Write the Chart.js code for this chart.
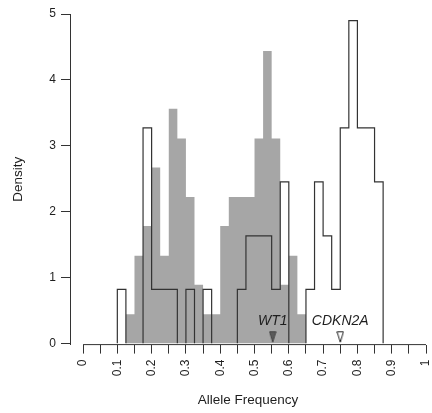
<!DOCTYPE html>
<html>
<head>
<meta charset="utf-8">
<script src="https://cdn.jsdelivr.net/npm/chart.js@4.4.1/dist/chart.umd.min.js"></script>
<style>
html,body{margin:0;padding:0;background:#fff;}
#wrap{width:432px;height:413px;}
</style>
</head>
<body>
<div id="wrap"><canvas id="c" width="432" height="413"></canvas></div>
<script>
// ---- data ----
const binLeft = [0.100,0.125,0.150,0.175,0.200,0.225,0.250,0.275,0.300,0.325,0.350,0.375,0.400,0.425,0.450,0.475,0.500,0.525,0.550,0.575,0.600,0.625,0.650,0.675,0.700,0.725,0.750,0.775,0.800,0.825,0.850];
const binWidth = 0.025;
const grayDensity = [0,0.44,1.33,1.78,2.67,1.33,3.56,3.11,2.22,0.89,0.44,0.44,1.78,2.22,2.22,2.22,3.11,4.44,3.11,0.89,1.33,0.44,0,0,0,0,0,0,0,0,0];
const outlineDensity = [0.82,0,0,3.27,0.82,0.82,0.82,0,0.82,0,0.82,0,0,0,0.82,1.63,1.63,1.63,0.82,2.45,0,0,0.82,2.45,1.63,0.82,3.27,4.90,3.27,3.27,2.45];
const markerNames = ['WT1','CDKN2A'];
const markerX = [0.553,0.75];
const xTickValues = [0,0.05,0.1,0.15,0.2,0.25,0.3,0.35,0.4,0.45,0.5,0.55,0.6,0.65,0.7,0.75,0.8,0.85,0.9,0.95,1];
const xTickLabels = ['0','','0.1','','0.2','','0.3','','0.4','','0.5','','0.6','','0.7','','0.8','','0.9','','1'];
const yTickValues = [0,1,2,3,4,5];
const yTickLabels = ['0','1','2','3','4','5'];

// ---- layout constants ----
const X_MIN = -0.038, X_MAX = 1.0, Y_MIN = -0.02, Y_MAX = 5;
const MARKER_Y = 0.096, LABEL_Y = 0.33;
const FONT = '"Liberation Sans", Arial, Helvetica, sans-serif';
const INK = '#1e1e1e', LINE = '#333333', GRAY = '#a6a6a6';

function triangle(fill, stroke) {
  const c = document.createElement('canvas');
  c.width = 8; c.height = 12;
  const g = c.getContext('2d');
  g.beginPath();
  g.moveTo(0.8, 0.8); g.lineTo(7.2, 0.8); g.lineTo(4, 11.2); g.closePath();
  g.fillStyle = fill; g.fill();
  g.lineWidth = 1; g.strokeStyle = stroke; g.stroke();
  return c;
}
const markerStyles = [triangle('#5a5a5a', '#444'), triangle('#ffffff', '#222')];

// gray filled histogram as a stepped area
const grayPoints = binLeft.map((e, i) => ({x: e, y: grayDensity[i]}));
grayPoints.push({x: binLeft[binLeft.length - 1] + binWidth, y: 0});

// open histogram outline: stepped path per run of non-empty bins
const outlinePoints = [];
let inRun = false;
binLeft.forEach((e, i) => {
  const h = outlineDensity[i];
  if (h > 0) {
    if (!inRun) { outlinePoints.push({x: e, y: 0}); inRun = true; }
    outlinePoints.push({x: e, y: h});
  } else if (inRun) {
    outlinePoints.push({x: e, y: 0});
    outlinePoints.push({x: e, y: null});
    inRun = false;
  }
});
if (inRun) {
  const end = binLeft[binLeft.length - 1] + binWidth;
  outlinePoints.push({x: end, y: 0});
}

const labelPlugin = {
  id: 'geneLabels',
  afterDatasetsDraw(chart) {
    const {ctx, scales: {x, y}} = chart;
    ctx.save();
    ctx.font = 'italic 14px ' + FONT;
    ctx.fillStyle = INK;
    ctx.textAlign = 'center';
    ctx.textBaseline = 'middle';
    markerNames.forEach((t, i) => ctx.fillText(t, x.getPixelForValue(markerX[i]), y.getPixelForValue(LABEL_Y)));
    ctx.restore();
  }
};

Chart.defaults.font.family = FONT;
Chart.defaults.color = INK;

new Chart(document.getElementById('c'), {
  type: 'line',
  data: {
    datasets: [
      {
        label: 'gray', data: grayPoints, stepped: 'before',
        fill: 'origin', backgroundColor: GRAY, borderWidth: 0, borderColor: GRAY,
        pointRadius: 0, order: 3
      },
      {
        label: 'outline', data: outlinePoints, stepped: 'before', spanGaps: false,
        fill: false, borderColor: LINE, borderWidth: 1.2, pointRadius: 0,
        borderJoinStyle: 'miter', order: 2
      },
      {
        label: 'xaxis', data: [{x: 0, y: Y_MIN}, {x: 1, y: Y_MIN}],
        borderColor: LINE, borderWidth: 1, pointRadius: 0, clip: false, fill: false, order: 1
      },
      {
        label: 'markers', showLine: false,
        data: markerX.map(v => ({x: v, y: MARKER_Y})),
        pointStyle: markerStyles, pointRadius: 5, pointHoverRadius: 5, order: 0
      }
    ]
  },
  options: {
    responsive: false,
    animation: false,
    devicePixelRatio: 1,
    layout: {padding: {top: 14, right: -1.3, left: 0, bottom: 0}},
    plugins: {legend: {display: false}, tooltip: {enabled: false}},
    events: [],
    scales: {
      x: {
        type: 'linear', min: X_MIN, max: X_MAX, offset: false,
        grid: {display: true, offset: false, drawOnChartArea: false, drawTicks: true, tickLength: 9, color: LINE, lineWidth: 1},
        border: {display: false},
        afterBuildTicks: (s) => { s.ticks = xTickValues.map(v => ({value: v})); },
        ticks: {
          autoSkip: false, minRotation: 90, maxRotation: 90, padding: 6,
          font: {size: 12}, color: INK,
          callback: (v, i) => xTickLabels[i]
        },
        title: {display: true, text: 'Allele Frequency', font: {size: 13.5}, color: INK, padding: {top: 0, bottom: 4.4}},
        afterFit: (s) => { s.height = 68.4; s.paddingLeft = 0; s.paddingRight = 0; }
      },
      y: {
        type: 'linear', min: Y_MIN, max: Y_MAX,
        grid: {display: true, drawOnChartArea: false, drawTicks: true, tickLength: 9, color: LINE, lineWidth: 1},
        border: {display: true, color: LINE, width: 1},
        afterBuildTicks: (s) => { s.ticks = yTickValues.map(v => ({value: v})); },
        ticks: {font: {size: 12}, color: INK, padding: 5, callback: (v, i) => yTickLabels[i]},
        title: {display: true, text: 'Density', font: {size: 13.5}, color: INK, padding: {top: 10, bottom: 0}},
        afterFit: (s) => { s.width = 70; s.paddingTop = 0; s.paddingBottom = 0; }
      }
    }
  },
  plugins: [labelPlugin]
});
</script>
</body>
</html>
